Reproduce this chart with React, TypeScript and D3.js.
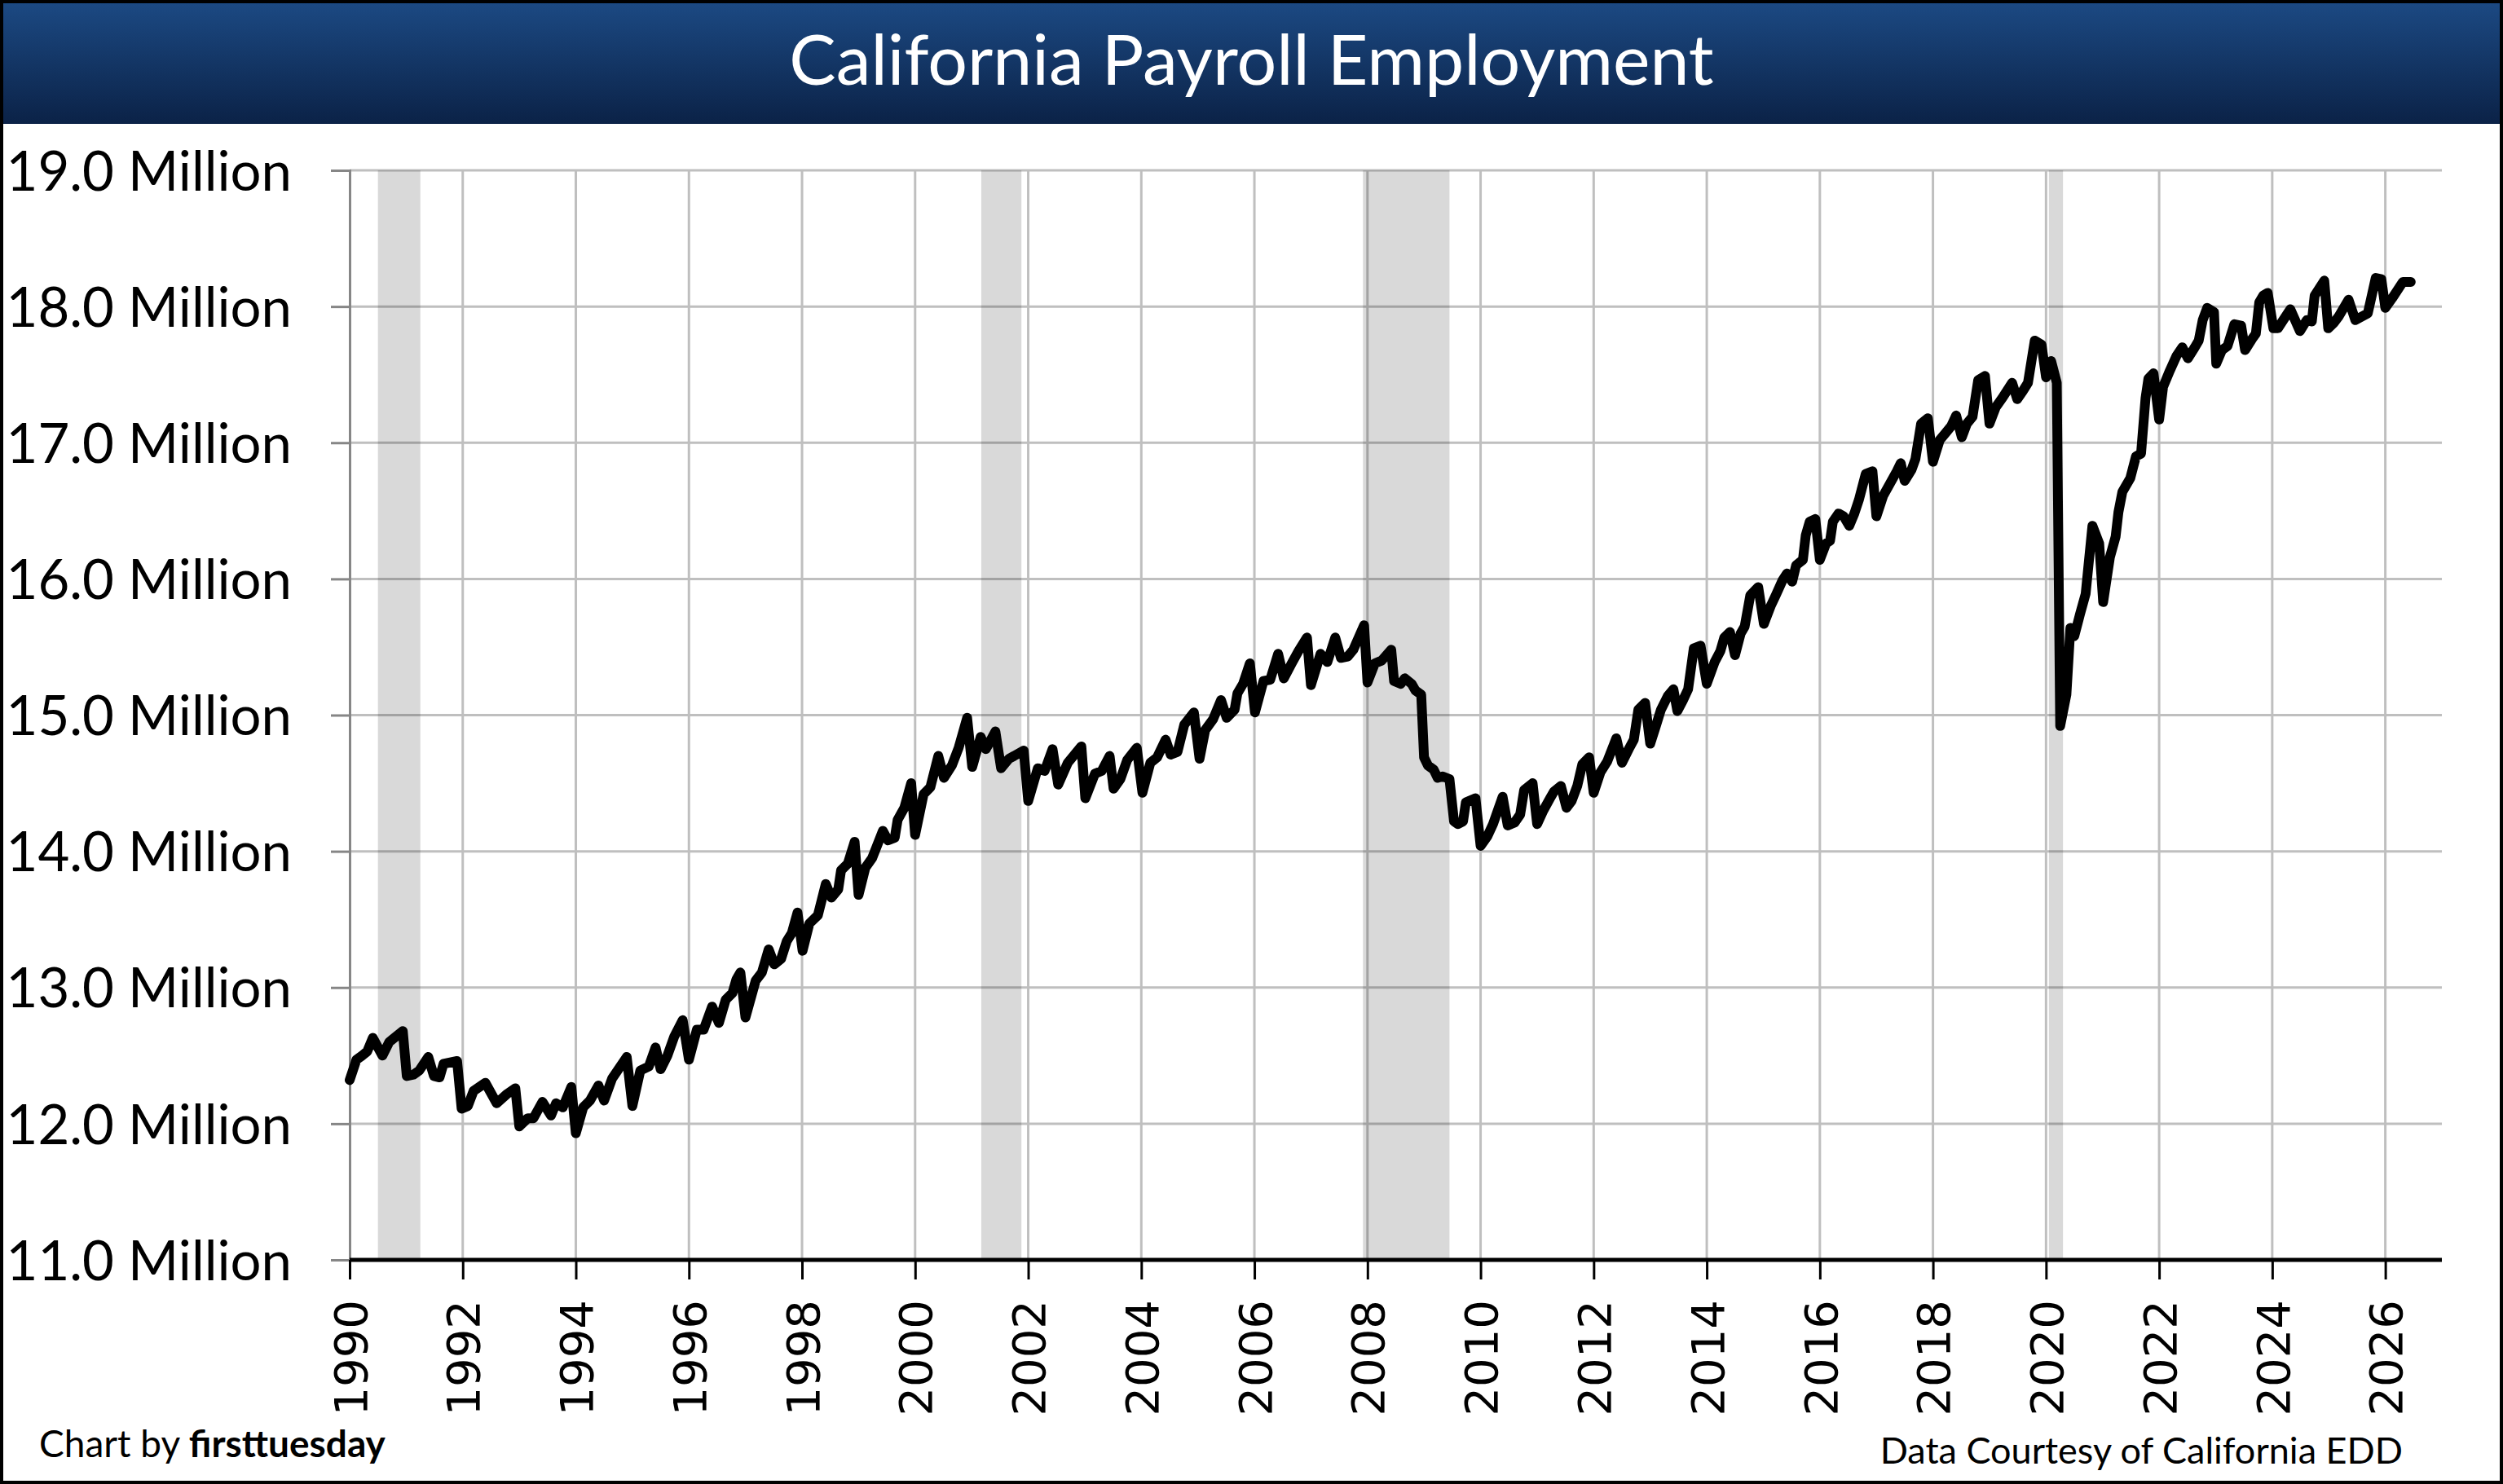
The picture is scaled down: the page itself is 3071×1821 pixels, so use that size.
import React, { useEffect, useRef } from 'react'
import * as d3 from 'd3'

// [decimal year, payroll jobs in millions]
const payroll1990s: [number, number][] = [
  [1990.0, 12.32], [1990.12, 12.47], [1990.22, 12.5], [1990.31, 12.53], [1990.41, 12.63], [1990.58, 12.5],
  [1990.7, 12.6], [1990.94, 12.68], [1991.01, 12.35], [1991.13, 12.36], [1991.23, 12.39], [1991.39, 12.49],
  [1991.49, 12.35], [1991.59, 12.34], [1991.66, 12.44], [1991.9, 12.46], [1991.98, 12.11], [1992.09, 12.13],
  [1992.19, 12.24], [1992.4, 12.3], [1992.6, 12.15], [1992.79, 12.22], [1992.93, 12.26], [1993.0, 11.98],
  [1993.15, 12.04], [1993.25, 12.04], [1993.41, 12.16], [1993.56, 12.06], [1993.65, 12.15], [1993.77, 12.12],
  [1993.92, 12.27], [1994.0, 11.93], [1994.13, 12.12], [1994.25, 12.17], [1994.4, 12.28], [1994.5, 12.17],
  [1994.64, 12.33], [1994.9, 12.49], [1995.0, 12.13], [1995.14, 12.39], [1995.29, 12.42], [1995.41, 12.56],
  [1995.5, 12.4], [1995.62, 12.5], [1995.74, 12.64], [1995.89, 12.76], [1996.0, 12.47], [1996.14, 12.69],
  [1996.26, 12.69], [1996.41, 12.86], [1996.53, 12.74], [1996.65, 12.91], [1996.77, 12.96], [1996.84, 13.06],
  [1996.91, 13.11], [1997.0, 12.78], [1997.18, 13.05], [1997.29, 13.11], [1997.41, 13.28], [1997.51, 13.17],
  [1997.63, 13.21], [1997.73, 13.34], [1997.82, 13.4], [1997.92, 13.55], [1998.01, 13.27], [1998.13, 13.47],
  [1998.28, 13.53], [1998.42, 13.76], [1998.52, 13.66], [1998.64, 13.72], [1998.69, 13.86], [1998.81, 13.91],
  [1998.93, 14.07], [1999.0, 13.68], [1999.12, 13.88], [1999.24, 13.95], [1999.43, 14.15], [1999.52, 14.08],
  [1999.64, 14.1], [1999.69, 14.23], [1999.81, 14.32], [1999.93, 14.5],
]

const payroll2000s: [number, number][] = [
  [2000.0, 14.12], [2000.15, 14.42], [2000.27, 14.47], [2000.41, 14.7], [2000.51, 14.54], [2000.65, 14.63],
  [2000.77, 14.76], [2000.92, 14.98], [2001.01, 14.62], [2001.16, 14.84], [2001.25, 14.75], [2001.42, 14.88],
  [2001.52, 14.61], [2001.66, 14.68], [2001.75, 14.7], [2001.92, 14.74], [2002.0, 14.37], [2002.17, 14.61],
  [2002.29, 14.59], [2002.43, 14.75], [2002.53, 14.49], [2002.7, 14.65], [2002.94, 14.77], [2003.01, 14.39],
  [2003.18, 14.57], [2003.3, 14.59], [2003.44, 14.7], [2003.51, 14.46], [2003.63, 14.53], [2003.75, 14.67],
  [2003.92, 14.76], [2004.02, 14.43], [2004.16, 14.65], [2004.28, 14.69], [2004.43, 14.82], [2004.52, 14.71],
  [2004.64, 14.73], [2004.76, 14.93], [2004.93, 15.02], [2005.03, 14.68], [2005.13, 14.89], [2005.27, 14.97],
  [2005.41, 15.11], [2005.51, 14.98], [2005.65, 15.04], [2005.7, 15.16], [2005.8, 15.23], [2005.92, 15.38],
  [2006.01, 15.02], [2006.16, 15.25], [2006.28, 15.26], [2006.42, 15.45], [2006.52, 15.27], [2006.66, 15.38],
  [2006.78, 15.47], [2006.93, 15.57], [2007.0, 15.22], [2007.17, 15.45], [2007.29, 15.39], [2007.43, 15.57],
  [2007.53, 15.42], [2007.65, 15.43], [2007.75, 15.48], [2007.94, 15.66], [2008.0, 15.24], [2008.13, 15.38],
  [2008.25, 15.4], [2008.42, 15.48], [2008.47, 15.25], [2008.59, 15.23], [2008.66, 15.27], [2008.78, 15.23],
  [2008.85, 15.18], [2008.95, 15.15], [2009.0, 14.69], [2009.07, 14.63], [2009.17, 14.6], [2009.24, 14.54],
  [2009.33, 14.55], [2009.45, 14.53], [2009.53, 14.22], [2009.6, 14.2], [2009.69, 14.22], [2009.74, 14.36],
  [2009.91, 14.39],
]

const payroll2010s: [number, number][] = [
  [2010.0, 14.04], [2010.12, 14.11], [2010.22, 14.2], [2010.39, 14.4], [2010.48, 14.19], [2010.6, 14.21],
  [2010.7, 14.27], [2010.77, 14.45], [2010.92, 14.5], [2011.0, 14.2], [2011.11, 14.3], [2011.23, 14.39],
  [2011.3, 14.44], [2011.42, 14.48], [2011.52, 14.32], [2011.61, 14.37], [2011.71, 14.48], [2011.8, 14.64],
  [2011.92, 14.69], [2012.0, 14.43], [2012.12, 14.58], [2012.24, 14.66], [2012.4, 14.83], [2012.5, 14.65],
  [2012.62, 14.75], [2012.71, 14.82], [2012.79, 15.04], [2012.91, 15.09], [2013.0, 14.79], [2013.1, 14.92],
  [2013.19, 15.04], [2013.31, 15.14], [2013.41, 15.19], [2013.48, 15.03], [2013.58, 15.11], [2013.67, 15.19],
  [2013.77, 15.49], [2013.89, 15.51], [2014.0, 15.23], [2014.14, 15.39], [2014.24, 15.47], [2014.31, 15.57],
  [2014.41, 15.61], [2014.5, 15.44], [2014.6, 15.6], [2014.67, 15.65], [2014.77, 15.88], [2014.91, 15.94],
  [2015.01, 15.67], [2015.13, 15.8], [2015.22, 15.88], [2015.34, 15.99], [2015.42, 16.04], [2015.51, 15.98],
  [2015.58, 16.1], [2015.7, 16.14], [2015.75, 16.32], [2015.82, 16.42], [2015.92, 16.44], [2016.0, 16.14],
  [2016.11, 16.26], [2016.18, 16.28], [2016.23, 16.42], [2016.33, 16.48], [2016.42, 16.46], [2016.52, 16.39],
  [2016.61, 16.48], [2016.69, 16.58], [2016.81, 16.77], [2016.93, 16.79], [2017.0, 16.46], [2017.12, 16.61],
  [2017.24, 16.7], [2017.36, 16.79], [2017.43, 16.85], [2017.5, 16.72], [2017.62, 16.8], [2017.69, 16.88],
  [2017.79, 17.14], [2017.91, 17.18], [2018.0, 16.86], [2018.12, 17.02], [2018.22, 17.07], [2018.32, 17.12],
  [2018.41, 17.2], [2018.51, 17.04], [2018.6, 17.14], [2018.7, 17.19], [2018.8, 17.46], [2018.92, 17.49],
  [2019.0, 17.14], [2019.11, 17.26], [2019.23, 17.33], [2019.4, 17.44], [2019.49, 17.32], [2019.59, 17.38],
  [2019.68, 17.44], [2019.8, 17.75], [2019.92, 17.72],
]

const payroll2020s: [number, number][] = [
  [2020.0, 17.48], [2020.09, 17.6], [2020.19, 17.44], [2020.25, 14.92], [2020.36, 15.15], [2020.43, 15.64],
  [2020.5, 15.58], [2020.6, 15.74], [2020.7, 15.89], [2020.82, 16.39], [2020.94, 16.26], [2021.01, 15.83],
  [2021.13, 16.16], [2021.23, 16.31], [2021.28, 16.49], [2021.35, 16.64], [2021.49, 16.74], [2021.59, 16.9],
  [2021.68, 16.92], [2021.76, 17.33], [2021.81, 17.47], [2021.9, 17.51], [2022.0, 17.17], [2022.07, 17.41],
  [2022.19, 17.53], [2022.31, 17.64], [2022.41, 17.7], [2022.51, 17.62], [2022.63, 17.7], [2022.7, 17.75],
  [2022.77, 17.9], [2022.85, 17.99], [2022.97, 17.96], [2023.01, 17.58], [2023.11, 17.68], [2023.21, 17.71],
  [2023.33, 17.87], [2023.45, 17.86], [2023.52, 17.68], [2023.64, 17.76], [2023.71, 17.8], [2023.77, 18.03],
  [2023.84, 18.08], [2023.92, 18.1], [2024.02, 17.84], [2024.1, 17.84], [2024.32, 17.98], [2024.49, 17.82],
  [2024.61, 17.9], [2024.7, 17.89], [2024.75, 18.08], [2024.92, 18.19], [2024.99, 17.84], [2025.09, 17.88],
  [2025.18, 17.93], [2025.35, 18.05], [2025.47, 17.9], [2025.69, 17.95], [2025.83, 18.21], [2025.93, 18.2],
  [2026.0, 17.99], [2026.12, 18.06], [2026.31, 18.18], [2026.45, 18.18],
]

// recessions, [start, end] in decimal years
const recessions: [number, number][] = [
  [1990.5, 1991.25], [2001.17, 2001.88], [2007.92, 2009.45], [2020.05, 2020.3],
]

const yearTicks = d3.range(1990, 2027, 2)
const valueTicks = [11, 12, 13, 14, 15, 16, 17, 18, 19]

const W = 3071
const H = 1821

export default function App() {
  const ref = useRef<HTMLDivElement | null>(null)

  useEffect(() => {
    document.body.style.margin = '0'
    const container = d3.select(ref.current!)
    container.selectAll('*').remove()
    const svg = container.append('svg')
      .attr('width', W).attr('height', H)
      .style('display', 'block')

    const margin = { top: 209, right: 75, bottom: 275, left: 429 }
    const x = d3.scaleLinear().domain([1990, 2027]).range([margin.left, W - margin.right])
    const y = d3.scaleLinear().domain([11, 19]).range([H - margin.bottom, margin.top])

    svg.append('rect').attr('width', W).attr('height', H).attr('fill', '#fff')

    // title bar
    const grad = svg.append('defs').append('linearGradient')
      .attr('id', 'titleGrad').attr('x1', 0).attr('y1', 0).attr('x2', 0).attr('y2', 1)
    grad.append('stop').attr('offset', '0%').attr('stop-color', '#1c4a84')
    grad.append('stop').attr('offset', '100%').attr('stop-color', '#0b2247')
    svg.append('rect').attr('width', W).attr('height', 152).attr('fill', 'url(#titleGrad)')
    svg.append('text')
      .attr('x', W / 2).attr('y', 104)
      .attr('text-anchor', 'middle')
      .attr('font-family', 'Lato, sans-serif').attr('font-size', 86)
      .attr('fill', '#fff')
      .text('California Payroll Employment')

    // gridlines
    const grid = svg.append('g').attr('stroke', '#bfbfbf').attr('stroke-width', 3)
    grid.selectAll('line.h').data(valueTicks.slice(1)).enter().append('line')
      .attr('x1', x(1990)).attr('x2', x(2027))
      .attr('y1', d => y(d)).attr('y2', d => y(d))
    grid.selectAll('line.v').data(yearTicks.slice(1)).enter().append('line')
      .attr('x1', d => x(d)).attr('x2', d => x(d))
      .attr('y1', y(19)).attr('y2', y(11))

    // recession shading
    svg.append('g').selectAll('rect').data(recessions).enter().append('rect')
      .attr('x', d => x(d[0]))
      .attr('width', d => x(d[1]) - x(d[0]))
      .attr('y', y(19))
      .attr('height', y(11) - y(19))
      .attr('fill', 'rgba(0,0,0,0.15)')

    // y axis
    const yAxis = svg.append('g')
      .attr('transform', `translate(${margin.left},0)`)
      .call(d3.axisLeft(y).tickValues(valueTicks).tickSize(23).tickPadding(48)
        .tickFormat(d => `${(+d).toFixed(1)} Million`))
    yAxis.select('.domain').attr('stroke', '#868686').attr('stroke-width', 3)
    yAxis.selectAll('.tick line').attr('stroke', '#868686').attr('stroke-width', 3)
    yAxis.selectAll('.tick text')
      .attr('font-family', 'Lato, sans-serif').attr('font-size', 67).attr('fill', '#000')
      .attr('dy', '0.36em')

    // x axis
    const xAxis = svg.append('g')
      .attr('transform', `translate(0,${y(11)})`)
      .call(d3.axisBottom(x).tickValues(yearTicks).tickSize(24).tickFormat(d3.format('d')))
    xAxis.select('.domain').attr('stroke', '#000').attr('stroke-width', 5)
      .attr('d', `M${x(1990)},0H${x(2027)}`)
    xAxis.selectAll('.tick line').attr('stroke', '#000').attr('stroke-width', 3)
    xAxis.selectAll('.tick text')
      .attr('font-family', '"DejaVu Sans", sans-serif').attr('font-size', 56).attr('fill', '#000')
      .attr('transform', 'rotate(-90)')
      .attr('text-anchor', 'end')
      .attr('x', -49).attr('y', 0).attr('dy', '0.36em')

    // employment line
    const series = [...payroll1990s, ...payroll2000s, ...payroll2010s, ...payroll2020s]
    const line = d3.line<[number, number]>().x(d => x(d[0])).y(d => y(d[1]))
    svg.append('path')
      .datum(series)
      .attr('d', line)
      .attr('fill', 'none')
      .attr('stroke', '#000')
      .attr('stroke-width', 12)
      .attr('stroke-linejoin', 'round')
      .attr('stroke-linecap', 'round')

    // footer
    const credit = svg.append('text')
      .attr('x', 48).attr('y', 1788)
      .attr('font-family', 'Lato, sans-serif').attr('font-size', 46).attr('fill', '#000')
    credit.append('tspan').text('Chart by ')
    credit.append('tspan').attr('font-weight', 700).text('firsttuesday')
    svg.append('text')
      .attr('x', 2948).attr('y', 1796)
      .attr('text-anchor', 'end')
      .attr('font-family', 'Lato, sans-serif').attr('font-size', 45).attr('fill', '#000')
      .text('Data Courtesy of California EDD')

    // outer frame
    svg.append('rect')
      .attr('x', 2).attr('y', 2).attr('width', W - 4).attr('height', H - 4)
      .attr('fill', 'none').attr('stroke', '#000').attr('stroke-width', 4)
  }, [])

  return <div ref={ref} />
}
